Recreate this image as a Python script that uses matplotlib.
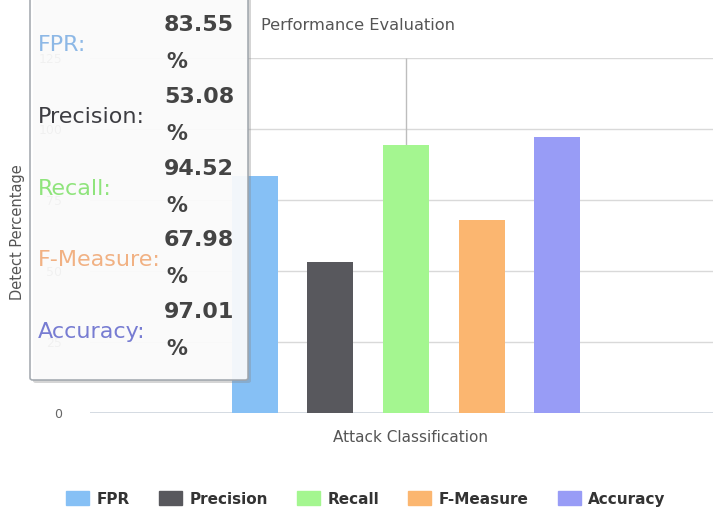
import matplotlib
matplotlib.use("Agg")
import matplotlib.pyplot as plt
from matplotlib.patches import FancyBboxPatch, Rectangle

# ---------- Data ----------
METRICS = ["FPR", "Precision", "Recall", "F-Measure", "Accuracy"]
VALUES = [83.55, 53.08, 94.52, 67.98, 97.01]
BAR_COLORS = ["#86c0f5", "#58585d", "#a4f690", "#fbb670", "#989cf6"]
LABEL_COLORS = ["#8db8e6", "#3d3d42", "#8fe47c", "#f1b183", "#777cd2"]
Y_TICKS = [0, 25, 50, 75, 100, 125]
TITLE = "Performance Evaluation"
X_LABEL = "Attack Classification"
Y_LABEL = "Detect Percentage"

W, H = 713, 512


def px(x, y):
    # pixel (from top-left) -> figure fraction
    return x / W, 1 - y / H


fig = plt.figure(figsize=(W / 100, H / 100), dpi=100)
fig.patch.set_facecolor("white")

# plot area: x 90..713, y 413 (0) .. 58 (125)
ax = fig.add_axes([90 / W, (H - 413) / H, (W - 90) / W, (413 - 58) / H])
for s in ax.spines.values():
    s.set_visible(False)

xpos = list(range(len(METRICS)))
ax.bar(xpos, VALUES, width=0.61, color=BAR_COLORS, zorder=2)
ax.set_xlim(-2.18, 6.06)
ax.set_ylim(0, 125)
ax.set_yticks(Y_TICKS)
ax.set_yticklabels([str(t) for t in Y_TICKS])
ax.set_xticks([])
ax.tick_params(axis="y", length=0, pad=20, labelsize=9, labelcolor="#666666")
ax.yaxis.grid(True, color="#d9d9d9", lw=1, zorder=0)
ax.set_axisbelow(True)
ax.axhline(0, color="#cfd6de", lw=1.2, zorder=1)
# crosshair line above the hovered group
ax.vlines(2, VALUES[2], 125, color="#bdbdbd", lw=1, zorder=1)

fig.text(*px(411, 438), X_LABEL, ha="center", va="center", fontsize=11, color="#555555")
fig.text(*px(18, 232), Y_LABEL, rotation=90, ha="center", va="center",
         fontsize=10.5, color="#555555")
fig.text(*px(261, 25), TITLE, ha="left", va="center", fontsize=11.7, color="#555555")

# legend
handles = [Rectangle((0, 0), 1, 1, color=c) for c in BAR_COLORS]
leg = fig.legend(handles, METRICS, loc="center", bbox_to_anchor=px(366, 499),
                 ncol=5, frameon=False, handlelength=1.5, handleheight=1.0,
                 handletextpad=0.5, columnspacing=1.9, borderpad=0,
                 prop={"weight": "bold", "size": 11})
for t in leg.get_texts():
    t.set_color("#333333")

# tooltip box (semi transparent, covers left part of the chart)
x0, y0 = px(30, 380)
x1, y1 = px(248, -10)
shadow = FancyBboxPatch((x0 + 3 / W, y0 - 3 / H), x1 - x0, y1 - y0,
                        boxstyle="round,pad=0,rounding_size=0.004",
                        transform=fig.transFigure, facecolor="#888888",
                        edgecolor="none", alpha=0.35, zorder=5)
box = FancyBboxPatch((x0, y0), x1 - x0, y1 - y0,
                     boxstyle="round,pad=0,rounding_size=0.004",
                     transform=fig.transFigure, facecolor="white",
                     edgecolor="#9ea4ab", lw=1.2, alpha=0.9, zorder=6)
fig.add_artist(shadow)
fig.add_artist(box)

row_top = 25
row_step = 71.8
for i, (name, val) in enumerate(zip(METRICS, VALUES)):
    yv = row_top + i * row_step
    fig.text(*px(38, yv + 20), name + ":", ha="left", va="center",
             fontsize=16, color=LABEL_COLORS[i], zorder=7)
    fig.text(*px(164, yv), f"{val:.2f}", ha="left", va="center",
             fontsize=16, fontweight="bold", color="#444444", zorder=7)
    fig.text(*px(166, yv + 37), "%", ha="left", va="center",
             fontsize=15, fontweight="bold", color="#444444", zorder=7)

fig.savefig("out.png", dpi=100)
